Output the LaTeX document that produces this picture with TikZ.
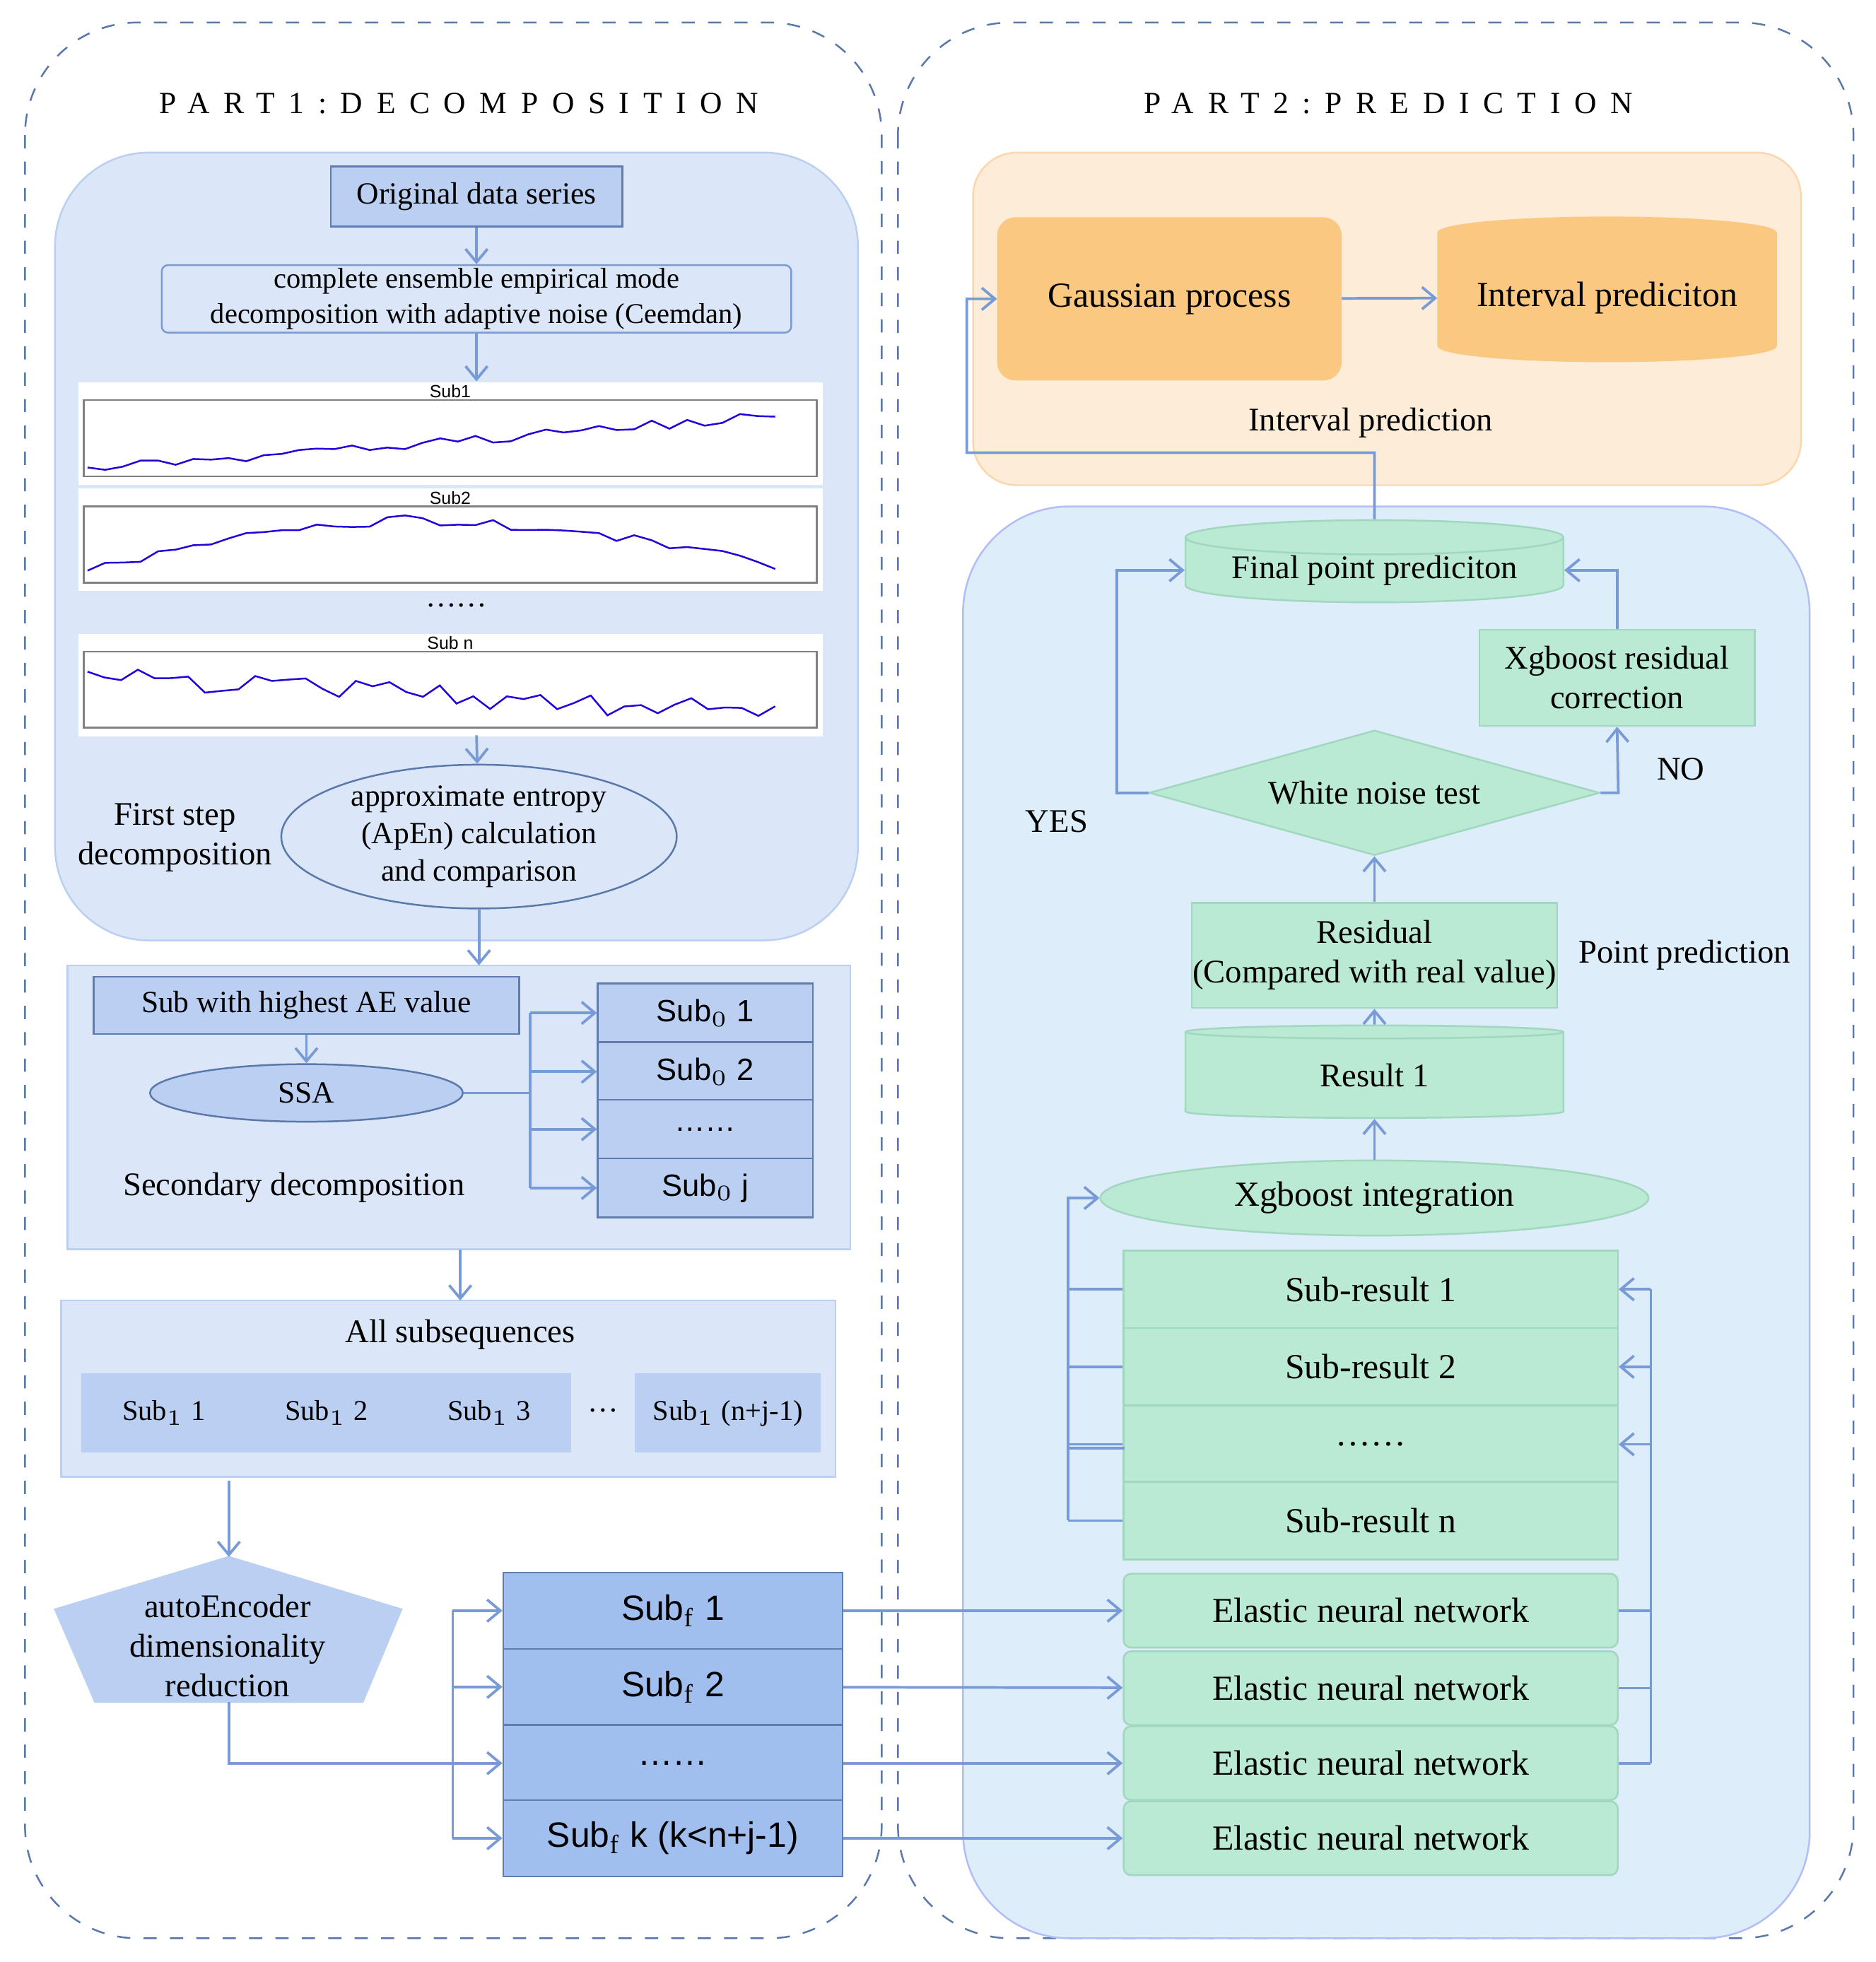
\documentclass[tikz,border=0pt]{standalone}
\usepackage{fontspec}
\setmainfont{Liberation Serif}
\newfontfamily\sansf{Liberation Sans}
\usetikzlibrary{positioning,shapes.geometric,arrows.meta}
\definecolor{lblue}{RGB}{219,231,248}
\definecolor{mblue}{RGB}{186,207,241}
\definecolor{dblue}{RGB}{160,190,238}
\definecolor{bline}{RGB}{120,155,215}
\definecolor{dash}{RGB}{90,120,170}
\definecolor{grn}{RGB}{186,233,212}
\definecolor{grnb}{RGB}{160,215,190}
\definecolor{orbg}{RGB}{253,236,216}
\definecolor{orf}{RGB}{250,200,128}
\definecolor{skyb}{RGB}{221,237,249}
\tikzset{
  part/.style={draw=dash,dashed,rounded corners=0.9cm},
  region/.style={draw=mblue,fill=lblue},
  gbox/.style={draw=grnb,fill=grn,inner sep=0pt,font=\fontsize{7.5}{9}\selectfont},
  cyl/.style={cylinder,shape border rotate=90,aspect=0.12,draw=grnb,fill=grn,inner sep=0pt},
  arr/.style={bline,semithick,-{Straight Barb[length=3pt,width=5pt]}},
  ln/.style={bline,semithick},
  plotc/.style={blue!70!violet,thin},
}
\begin{document}
\begin{tikzpicture}[x=0.01cm,y=-0.01cm,font=\fontsize{7}{8.5}\selectfont]
  \useasboundingbox (0,0) rectangle (1500,1569);
  % outer parts
  \draw[part] (20,18) rectangle (705,1550);
  \draw[part] (718,18) rectangle (1482,1550);
  \node (t1) at (367,83) {\addfontfeature{LetterSpace=45}PART1:DECOMPOSITION};
  \node (t2) at (1110,83) {\addfontfeature{LetterSpace=45}PART2:PREDICTION};

  % ---- part 1
  \draw[region,rounded corners=0.75cm] (44,122) rectangle (686,752);
  \node[draw=bline!80!black,fill=mblue,minimum width=2.33cm,minimum height=0.48cm] (orig) at (381,157) {Original data series};
  \node[draw=bline,fill=lblue,rounded corners=0.05cm,minimum width=5.03cm,minimum height=0.54cm,align=center,
        inner sep=0pt,font=\fontsize{6.5}{8}\selectfont] (ceem) at (381,239)
        {complete ensemble empirical mode\\decomposition with adaptive noise (Ceemdan)};
  \draw[arr] (orig) -- (ceem);
  % sub series charts
  \foreach \nm/\top/\lab in {c1/305/Sub1,c2/390/Sub2,c3/506/Sub n}{
    \node[fill=white,minimum width=5.95cm,minimum height=0.82cm,inner sep=0pt,anchor=north west] (\nm) at (62,\top) {};
    \node[font=\sansf\fontsize{4}{5}\selectfont] at (360,\top+8) {\lab};
    \draw[gray,fill=white] (67,\top+15) rectangle (653,\top+76);
  }
  \pgfmathsetseed{7}
  \draw[plotc] plot[domain=0:1,samples=40,variable=\t] ({70+550*\t},{378-55*(0.06+0.78*\t^1.1+0.07*rand)});
  \draw[plotc] plot[domain=0:1,samples=40,variable=\t] ({70+550*\t},{463-55*(0.05+0.8*sin(170*\t^0.85)+0.08*rand)});
  \draw[plotc] plot[domain=0:1,samples=42,variable=\t] ({70+550*\t},{579-55*(0.7-0.55*\t+0.16*rand)});
  \node (dots1) at (365,484) {\dots\dots};
  \draw[arr] (ceem) -- (381,305);
  \node[draw=dash,fill=lblue,ellipse,minimum width=3.16cm,minimum height=0.96cm,inner sep=0pt,align=center] (apen) at (383,669)
        {approximate entropy\\(ApEn) calculation\\and comparison};
  \draw[arr] (381,588) -- (apen);
  \node[align=center,font=\fontsize{7.5}{9}\selectfont] (fsd) at (140,670) {First step\\decomposition};

  % secondary decomposition
  \draw[region] (54,772) rectangle (680,999);
  \draw[arr] (apen) -- (383,772);
  \node[draw=bline!80!black,fill=mblue,minimum width=3.4cm,minimum height=0.46cm] (hi) at (245,804) {Sub with highest AE value};
  \node[draw=dash,fill=mblue,ellipse,minimum width=2.5cm,minimum height=0.46cm,inner sep=0pt] (ssa) at (245,874) {SSA};
  \draw[arr] (hi) -- (ssa);
  \foreach \i/\y/\lab in {1/810/Sub$_0$ 1,2/857/Sub$_0$ 2,3/903/\dots\dots,4/950/Sub$_0$ j}{
    \node[draw=bline!80!black,fill=mblue,minimum width=1.72cm,minimum height=0.47cm,inner sep=0pt,font=\sansf\fontsize{7}{8}\selectfont] (sz\i) at (564,\y) {\lab};
    \draw[arr] (424,\y) -- (sz\i);
  }
  \draw[ln] (ssa) -- (424,874);
  \draw[ln] (424,810) -- (424,950);
  \node[font=\fontsize{7.5}{9}\selectfont] (secd) at (235,950) {Secondary decomposition};

  % all subsequences
  \draw[region] (49,1040) rectangle (668,1181);
  \draw[arr] (368,999) -- (368,1040);
  \node[font=\fontsize{7.5}{9}\selectfont] (alls) at (368,1067) {All subsequences};
  \foreach \i/\x/\w/\lab in {1/131/1.31/Sub$_1$ 1,2/261/1.29/Sub$_1$ 2,3/391/1.30/Sub$_1$ 3,4/582/1.47/Sub$_1$ (n+j-1)}{
    \node[draw=mblue,fill=mblue,minimum width=\w cm,minimum height=0.62cm,inner sep=0pt,font=\fontsize{6.5}{8}\selectfont] (s1\i) at (\x,1130) {\lab};
  }
  \node (dots2) at (482,1128) {\dots};

  % autoencoder
  \draw[mblue,fill=mblue] (183,1245) -- (321,1287) -- (290,1361) -- (76,1361) -- (44,1287) -- cycle;
  \node[align=center,font=\fontsize{7.5}{9}\selectfont] (ae) at (182,1316) {autoEncoder\\dimensionality\\reduction};
  \draw[arr] (183,1184) -- (183,1245);
  \foreach \i/\y/\lab in {1/1288/Sub$_\mathrm{f}$ 1,2/1349/Sub$_\mathrm{f}$ 2,3/1410/\dots\dots,4/1470/Sub$_\mathrm{f}$ k (k<n+j-1)}{
    \node[draw=bline!80!black,fill=dblue,minimum width=2.71cm,minimum height=0.61cm,inner sep=0pt,font=\sansf\fontsize{8}{9}\selectfont] (sf\i) at (538,\y) {\lab};
    \draw[arr] (362,\y) -- (sf\i);
  }
  \draw[ln] (183,1361) |- (362,1410);
  \draw[ln] (362,1288) -- (362,1470);

  % ---- part 2
  \draw[draw=orbg!80!orange,fill=orbg,rounded corners=0.35cm] (778,122) rectangle (1440,388);
  \node[fill=orf,draw=orf,rounded corners=0.14cm,minimum width=2.74cm,minimum height=1.29cm,font=\fontsize{8}{9.5}\selectfont] (gp) at (935,239) {Gaussian process};
  \node[cylinder,shape border rotate=90,aspect=0.12,draw=orf,fill=orf,minimum width=2.7cm,minimum height=1.15cm,inner sep=0pt,
        font=\fontsize{8}{9.5}\selectfont] (ip) at (1285,238) {Interval prediciton};
  \draw[arr] (gp) -- (ip);
  \node[font=\fontsize{7.5}{9}\selectfont] (iplab) at (1096,338) {Interval prediction};

  \draw[draw=skyb!80!blue,fill=skyb,rounded corners=0.85cm] (770,405) rectangle (1447,1550);
  \node[cyl,minimum width=3.02cm,minimum height=0.65cm,font=\fontsize{7.5}{9}\selectfont] (fin) at (1099,456) {Final point prediciton};
  \coordinate (up) at (1099,362);
  \draw[arr] (fin.north) -- (up) -| (773,239) -- (gp);
  \node[gbox,minimum width=2.2cm,minimum height=0.77cm,align=center] (xgr) at (1293,542) {Xgboost residual\\correction};
  \node[diamond,aspect=3.6,draw=grnb,fill=grn,minimum width=3.6cm,minimum height=1cm,inner sep=0pt,
        font=\fontsize{7.5}{9}\selectfont] (wn) at (1099,634) {White noise test};
  \node[font=\fontsize{7.5}{9}\selectfont] (yes) at (845,657) {YES};
  \node[font=\fontsize{7.5}{9}\selectfont] (no) at (1344,615) {NO};
  \draw[arr] (wn.west) -- (893,634) |- (fin.west);
  \draw[arr] (wn.east) -- (1294,634) -- (xgr.south);
  \draw[arr] (xgr.north) |- (fin.east);
  \node[gbox,minimum width=2.92cm,minimum height=0.84cm,align=center] (res) at (1099,764) {Residual\\(Compared with real value)};
  \draw[arr] (res) -- (wn.south);
  \node[font=\fontsize{7.5}{9}\selectfont] (pplab) at (1347,764) {Point prediction};
  \node[cyl,minimum width=3.02cm,minimum height=0.74cm,font=\fontsize{7.5}{9}\selectfont] (r1) at (1099,860) {Result 1};
  \draw[arr] (r1) -- (res);
  \node[ellipse,draw=grnb,fill=grn,minimum width=4.38cm,minimum height=0.6cm,inner sep=0pt,font=\fontsize{8}{9.5}\selectfont] (xgi) at (1099,958) {Xgboost integration};
  \draw[arr] (xgi) -- (r1);
  \foreach \i/\y/\lab in {1/1031/Sub-result 1,2/1093/Sub-result 2,3/1155/\dots\dots,4/1216/Sub-result n}{
    \node[gbox,minimum width=3.95cm,minimum height=0.62cm,font=\fontsize{8}{9.5}\selectfont] (sr\i) at (1096,\y) {\lab};
    \draw[ln] (sr\i.west) -- (854,\y);
  }
  \draw[ln] (854,1158) -- (899,1158);
  \draw[arr] (854,1216) -- (854,958) -- (xgi.west);
  \foreach \i/\y in {1/1288,2/1350,3/1410,4/1470}{
    \node[gbox,rounded corners=0.06cm,minimum width=3.95cm,minimum height=0.59cm,font=\fontsize{8}{9.5}\selectfont] (en\i) at (1096,\y) {Elastic neural network};
    \draw[arr] (sf\i) -- (en\i);
  }
  \foreach \i in {1,2,3}{
    \draw[ln] (en\i.east) -- (1320,0 |- en\i.east);
    \draw[arr] (1320,0 |- sr\i.east) -- (sr\i.east);
  }
  \draw[ln] (1320,1031) -- (1320,1410);
\end{tikzpicture}
\end{document}
